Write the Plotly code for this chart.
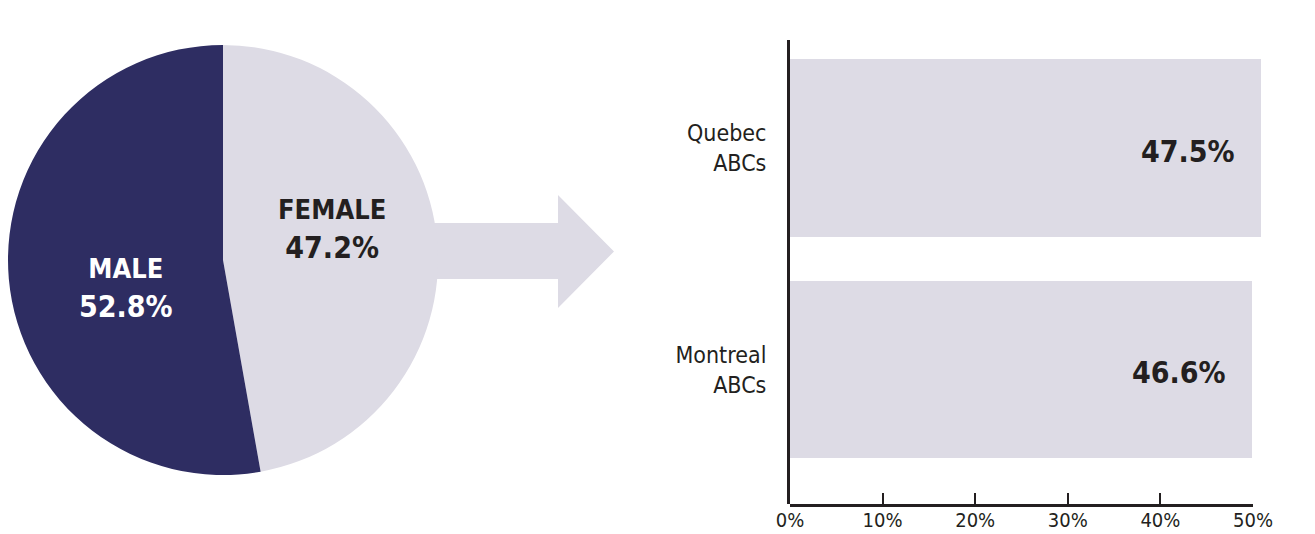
import plotly.graph_objects as go

# ---- data ----
pie_labels = ["Female", "Male"]
pie_values = [47.2, 52.8]
pie_colors = ["#DDDBE5", "#2E2D62"]
pie_text_colors = ["#231F20", "#FFFFFF"]

bar_categories = ["Montreal<br>ABCs", "Quebec<br>ABCs"]
bar_values = [46.6, 47.5]
bar_color = "#DDDBE5"

tick_values = [0, 10, 20, 30, 40, 50]
tick_labels = ["0%", "10%", "20%", "30%", "40%", "50%"]

# ---- layout helpers (pixel -> paper) ----
W, H = 1315, 534
def fx(px):
    return px / W
def fy(py):
    return 1 - py / H

DARK = "#231F20"
NARROW = "DejaVu Sans Condensed, Liberation Sans Narrow, sans-serif"

fig = go.Figure()

# Pie
fig.add_trace(go.Pie(
    labels=pie_labels, values=pie_values, sort=False, direction="clockwise",
    rotation=0, marker=dict(colors=pie_colors, line=dict(width=0)),
    textinfo="none", hoverinfo="label+percent", showlegend=False,
    domain=dict(x=[fx(8), fx(438)], y=[fy(475), fy(45)]),
))

# Bars
fig.add_trace(go.Bar(
    x=bar_values, y=list(range(len(bar_values))), orientation="h", width=0.8,
    marker=dict(color=bar_color, line=dict(width=0)),
    xaxis="x", yaxis="y", showlegend=False, hoverinfo="x",
))
# empty trace to host the tick axis
fig.add_trace(go.Scatter(x=[], y=[], xaxis="x2", yaxis="y2", showlegend=False,
                         hoverinfo="skip"))

ydom = [fy(504), fy(40)]
annotations = []
# pie labels
pie_label_pos = [(332, 229), (126, 288)]
for lab, val, col, (px, py) in zip(pie_labels, pie_values, pie_text_colors, pie_label_pos):
    annotations.append(dict(
        x=fx(px), y=fy(py), xref="paper", yref="paper", showarrow=False,
        text=f"<b><span style='font-size:27px'>{lab.upper()}</span><br>{val}%</b>",
        font=dict(family=NARROW, size=30, color=col), align="center",
        xanchor="center", yanchor="middle",
    ))
# bar value labels
for i, v in enumerate(bar_values):
    annotations.append(dict(
        x=v, y=i, xref="x", yref="y", showarrow=False, text=f"<b>{v}%</b>",
        font=dict(family=NARROW, size=30, color=DARK),
        xanchor="right", yanchor="middle", xshift=-24, yshift=-3,
    ))

# arrow shape (decorative)
arrow_pts = [(400, 223), (558, 223), (558, 195), (614, 251.5), (558, 308), (558, 279), (400, 279)]
path = "M " + " L ".join(f"{fx(a):.5f},{fy(b):.5f}" for a, b in arrow_pts) + " Z"

fig.update_layout(
    width=W, height=H, margin=dict(l=0, r=0, t=0, b=0, autoexpand=False),
    paper_bgcolor="white", plot_bgcolor="rgba(0,0,0,0)",
    bargap=0,
    shapes=[dict(type="path", path=path, xref="paper", yref="paper",
                 fillcolor="#DDDBE5", line=dict(width=0), layer="below")],
    annotations=annotations,
    xaxis=dict(domain=[fx(790), 1], range=[0, 525 / 9.916], visible=False,
               anchor="y", fixedrange=True, automargin=False),
    yaxis=dict(domain=ydom, range=[-0.607, 1.4876], anchor="x",
               tickvals=list(range(len(bar_categories))), ticktext=bar_categories,
               showline=True, linewidth=3, linecolor=DARK, ticks="",
               showgrid=False, zeroline=False, ticklabelstandoff=16,
               automargin=False,
               tickfont=dict(family=NARROW, size=23, color=DARK)),
    xaxis2=dict(domain=[fx(790), fx(1253)], range=[0, 50], anchor="y2",
                tickvals=tick_values, ticktext=tick_labels,
                ticks="inside", ticklen=11, tickwidth=2, tickcolor=DARK,
                showline=True, linewidth=2.5, linecolor=DARK,
                showgrid=False, zeroline=False, automargin=False,
                ticklabelstandoff=-4,
                tickfont=dict(family=NARROW, size=20, color=DARK)),
    yaxis2=dict(domain=ydom, range=[0, 1], anchor="x2", visible=False,
                automargin=False),
)

fig.write_html("out.html")
